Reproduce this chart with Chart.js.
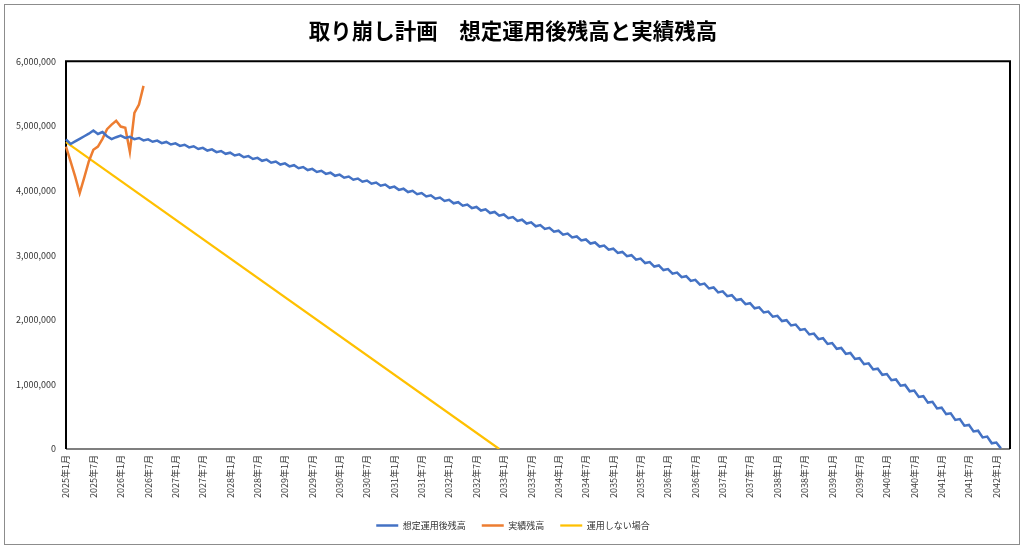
<!DOCTYPE html>
<html>
<head>
<meta charset="utf-8">
<script src="https://cdn.jsdelivr.net/npm/chart.js@4"></script>
<style>
  body { margin: 0; background: #fff; }
  canvas { display: block; }
</style>
</head>
<body>
<canvas id="chart" width="1024" height="549"></canvas>
<script>
// ===========================
// DATA
// ===========================

// Month categories: 2025年1月 .. 2042年4月
const startYear = 2025;
const monthCount = 208;
const labels = [];
for (let i = 0; i < monthCount; i++) {
    labels.push((startYear + Math.floor(i / 12)) + "年" + (i % 12 + 1) + "月");
}

// 想定運用後残高 (monthly)
const planned = [
    4790000, 4720000, 4760000, 4800000, 4840000, 4880000, 4930000, 4875000, 4905000, 4840000,
    4795000, 4825000, 4850000, 4814000, 4832000, 4795000, 4813000, 4775000, 4793000, 4755000,
    4773000, 4734000, 4752000, 4712000, 4730000, 4690000, 4708000, 4667000, 4685000, 4643000,
    4661000, 4619000, 4637000, 4594000, 4612000, 4568000, 4586000, 4542000, 4560000, 4515000,
    4533000, 4488000, 4506000, 4460000, 4478000, 4431000, 4449000, 4402000, 4420000, 4374000,
    4392000, 4346000, 4364000, 4317000, 4335000, 4288000, 4306000, 4258000, 4276000, 4228000,
    4246000, 4198000, 4216000, 4168000, 4186000, 4137000, 4155000, 4106000, 4124000, 4074000,
    4092000, 4042000, 4060000, 4010000, 4028000, 3977000, 3995000, 3943000, 3961000, 3909000,
    3927000, 3874000, 3892000, 3838000, 3856000, 3802000, 3820000, 3765000, 3783000, 3728000,
    3746000, 3690000, 3708000, 3651000, 3669000, 3612000, 3630000, 3572000, 3590000, 3531000,
    3549000, 3489000, 3507000, 3447000, 3465000, 3406000, 3422000, 3362000, 3378000, 3318000,
    3334000, 3273000, 3289000, 3227000, 3243000, 3180000, 3196000, 3133000, 3149000, 3084000,
    3100000, 3034000, 3050000, 2983000, 2999000, 2931000, 2947000, 2878000, 2894000, 2824000,
    2840000, 2769000, 2785000, 2714000, 2730000, 2658000, 2674000, 2601000, 2617000, 2543000,
    2559000, 2484000, 2500000, 2424000, 2440000, 2366000, 2380000, 2305000, 2319000, 2242000,
    2256000, 2178000, 2192000, 2113000, 2127000, 2047000, 2061000, 1980000, 1994000, 1912000,
    1926000, 1843000, 1857000, 1772000, 1786000, 1700000, 1714000, 1626000, 1640000, 1550000,
    1564000, 1472000, 1486000, 1394000, 1406000, 1313000, 1325000, 1231000, 1243000, 1148000,
    1160000, 1064000, 1076000, 979000, 991000, 893000, 905000, 806000, 818000, 718000,
    730000, 628000, 640000, 540000, 552000, 451000, 463000, 361000, 373000, 271000,
    283000, 180000, 192000, 88000, 100000, 10000
];

// 実績残高 (monthly, 2025年1月 .. 2026年6月)
const actual = [
    4680000, 4450000, 4220000, 3960000, 4200000, 4450000, 4630000, 4680000, 4800000, 4950000,
    5020000, 5080000, 4990000, 4970000, 4600000, 5200000, 5330000, 5620000
];

// 運用しない場合 (straight line: start and end)
const noInvestMonths = ["2025年1月", "2032年12月"];
const noInvestValues = [4750000, 0];

// Y axis
const yMin = 0;
const yMax = 6000000;
const yStep = 1000000;

// ===========================
// PLUGINS
// ===========================

const frame = {
    id: "frame",
    beforeDraw(chart){
        const ctx = chart.ctx;
        ctx.save();
        ctx.fillStyle = "#ffffff";
        ctx.fillRect(0, 0, chart.width, chart.height);
        ctx.strokeStyle = "#8c8c8c";
        ctx.lineWidth = 1;
        ctx.strokeRect(4.5, 4.5, chart.width - 9, chart.height - 9);
        ctx.restore();
    },
    beforeDatasetsDraw(chart){
        const a = chart.chartArea;
        const ctx = chart.ctx;
        ctx.save();
        ctx.lineWidth = 2;
        ctx.strokeStyle = "#7f7f7f";
        ctx.beginPath();
        ctx.moveTo(a.left, a.bottom);
        ctx.lineTo(a.right, a.bottom);
        ctx.stroke();
        ctx.strokeStyle = "#000000";
        ctx.beginPath();
        ctx.moveTo(a.left, a.bottom);
        ctx.lineTo(a.left, a.top);
        ctx.lineTo(a.right, a.top);
        ctx.lineTo(a.right, a.bottom);
        ctx.stroke();
        ctx.restore();
    }
};

// ===========================
// CHART
// ===========================

const font = "'Noto Sans CJK JP', 'Noto Sans', sans-serif";

new Chart(document.getElementById("chart"), {

    type: "line",

    data: {
        labels: labels,
        datasets: [
            {
                label: "想定運用後残高",
                data: planned,
                borderColor: "#4472C4",
                backgroundColor: "#4472C4",
                borderWidth: 2.5
            },
            {
                label: "実績残高",
                data: actual,
                borderColor: "#ED7D31",
                backgroundColor: "#ED7D31",
                borderWidth: 2.5
            },
            {
                label: "運用しない場合",
                data: noInvestMonths.map((m, i) => ({ x: m, y: noInvestValues[i] })),
                borderColor: "#FFC000",
                backgroundColor: "#FFC000",
                borderWidth: 2.25
            }
        ]
    },

    options: {
        responsive: false,
        animation: false,
        elements: {
            point: { radius: 0, hoverRadius: 0 },
            line: { tension: 0 }
        },
        layout: {
            padding: { left: 16, right: 14, bottom: 9 }
        },
        scales: {
            x: {
                offset: false,
                grid: { display: false, drawTicks: false },
                border: { display: false },
                ticks: {
                    autoSkip: false,
                    minRotation: 90,
                    maxRotation: 90,
                    padding: 6,
                    color: "#333333",
                    font: { family: font, size: 9 },
                    callback: function(value, index){
                        return index % 6 === 0 ? this.getLabelForValue(value) : null;
                    }
                },
                afterFit(scale){
                    scale.height = 56;
                }
            },
            y: {
                min: yMin,
                max: yMax,
                grid: { display: false, drawTicks: false },
                border: { display: false },
                ticks: {
                    stepSize: yStep,
                    padding: 10,
                    color: "#333333",
                    font: { family: font, size: 9 },
                    callback: value => value.toLocaleString("en-US")
                },
                afterFit(scale){
                    scale.width = 50;
                }
            }
        },
        plugins: {
            title: {
                display: true,
                text: "取り崩し計画　想定運用後残高と実績残高",
                color: "#000000",
                font: { family: font, size: 21.5, weight: "bold" },
                padding: { top: 18, bottom: 17.5 }
            },
            legend: {
                position: "bottom",
                labels: {
                    usePointStyle: true,
                    pointStyle: "line",
                    pointStyleWidth: 22,
                    padding: 16,
                    color: "#333333",
                    font: { family: font, size: 9 }
                }
            },
            tooltip: { enabled: false }
        }
    },

    plugins: [frame]

});
</script>
</body>
</html>
